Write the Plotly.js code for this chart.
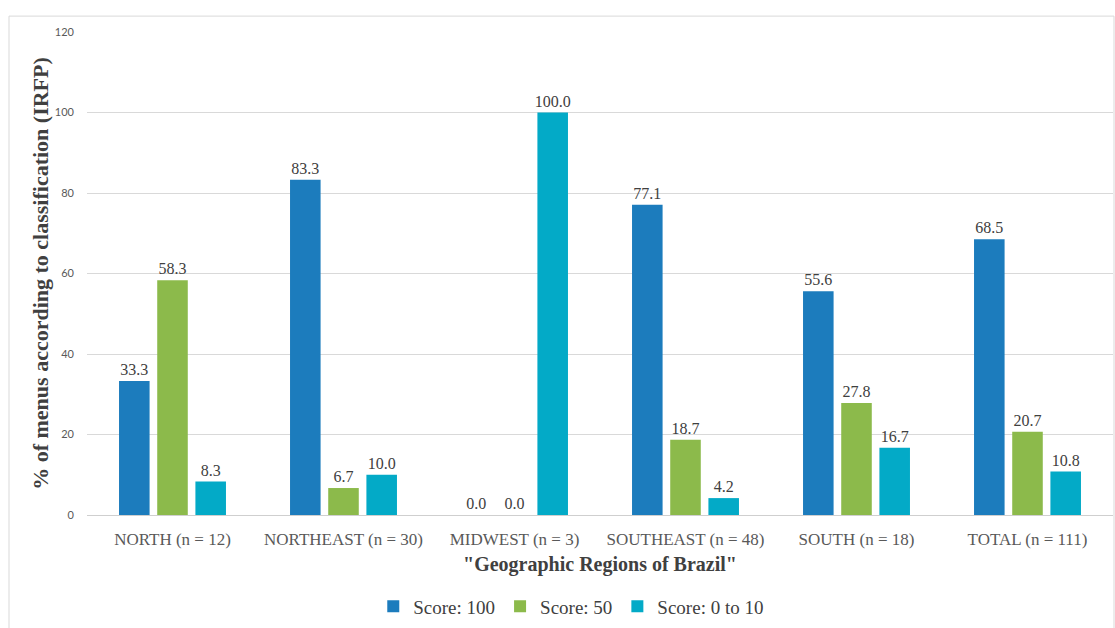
<!DOCTYPE html>
<html>
<head>
<meta charset="utf-8">
<script src="https://cdn.plot.ly/plotly-3.0.1.min.js"></script>
<style>
html,body{margin:0;padding:0;background:#fff;}
#chart{width:1115px;height:628px;}
</style>
</head>
<body>
<div id="chart"></div>
<script>
var categories = ["NORTH (n = 12)", "NORTHEAST (n = 30)", "MIDWEST (n = 3)", "SOUTHEAST (n = 48)", "SOUTH (n = 18)", "TOTAL (n = 111)"];
var score100 = [33.3, 83.3, 0.0, 77.1, 55.6, 68.5];
var score50 = [58.3, 6.7, 0.0, 18.7, 27.8, 20.7];
var score0to10 = [8.3, 10.0, 100.0, 4.2, 16.7, 10.8];
var seriesNames = ["Score: 100", "Score: 50", "Score: 0 to 10"];
var yTicks = [0, 20, 40, 60, 80, 100, 120];

var colors = ["#1C7CBD", "#8CBA4B", "#03AAC7"];
var serif = "Liberation Serif, Times New Roman, serif";

function mk(vals, name, color) {
  return {
    type: "bar",
    x: categories,
    y: vals,
    name: name,
    marker: {color: color},
    text: vals.map(function(v){ return v.toFixed(1); }),
    textposition: "outside",
    constraintext: "none",
    textfont: {family: serif, size: 16, color: "#404040"},
    cliponaxis: false,
    hoverinfo: "x+y+name"
  };
}

var data = [
  mk(score100, seriesNames[0], colors[0]),
  mk(score50, seriesNames[1], colors[1]),
  mk(score0to10, seriesNames[2], colors[2])
];

var layout = {
  width: 1115,
  height: 628,
  margin: {l: 87, r: 2, t: 32, b: 110},
  paper_bgcolor: "#ffffff",
  plot_bgcolor: "#ffffff",
  barmode: "group",
  bargap: 0.33,
  bargroupgap: 0.2,
  showlegend: true,
  legend: {
    orientation: "h",
    x: 0.472,
    xanchor: "center",
    y: -0.15,
    yanchor: "top",
    font: {family: serif, size: 19, color: "#404040"},
    traceorder: "normal"
  },
  xaxis: {
    type: "category",
    tickfont: {family: serif, size: 17, color: "#595959"},
    ticklabelstandoff: 12,
    showgrid: false,
    showline: false,
    ticks: "",
    title: {
      text: "\"Geographic Regions of Brazil\"",
      font: {family: serif, size: 20, color: "#404040", weight: "bold"},
      standoff: 8
    }
  },
  yaxis: {
    range: [0, 120],
    tickvals: yTicks,
    ticktext: yTicks.map(String),
    tickfont: {family: "Lato, Open Sans, sans-serif", size: 11, color: "#595959"},
    ticklabelstandoff: 12,
    showgrid: true,
    gridcolor: "#d9d9d9",
    gridwidth: 1,
    zeroline: true,
    zerolinecolor: "#cfcfcf",
    zerolinewidth: 1,
    showline: false,
    ticks: "",
    title: {
      text: "% of menus according to classification (IRFP)",
      font: {family: serif, size: 22, color: "#404040", weight: "bold"},
      standoff: 0
    }
  },
  shapes: [{
    type: "rect",
    xref: "paper", yref: "paper",
    x0: (9 - 87) / 1026, x1: (1114 - 87) / 1026,
    y0: -(640 - 518) / 486, y1: 1 + (32 - 16) / 486,
    line: {color: "#d9d9d9", width: 1},
    fillcolor: "rgba(0,0,0,0)",
    layer: "below"
  }]
};

Plotly.newPlot("chart", data, layout, {displayModeBar: false, staticPlot: true});
</script>
</body>
</html>
